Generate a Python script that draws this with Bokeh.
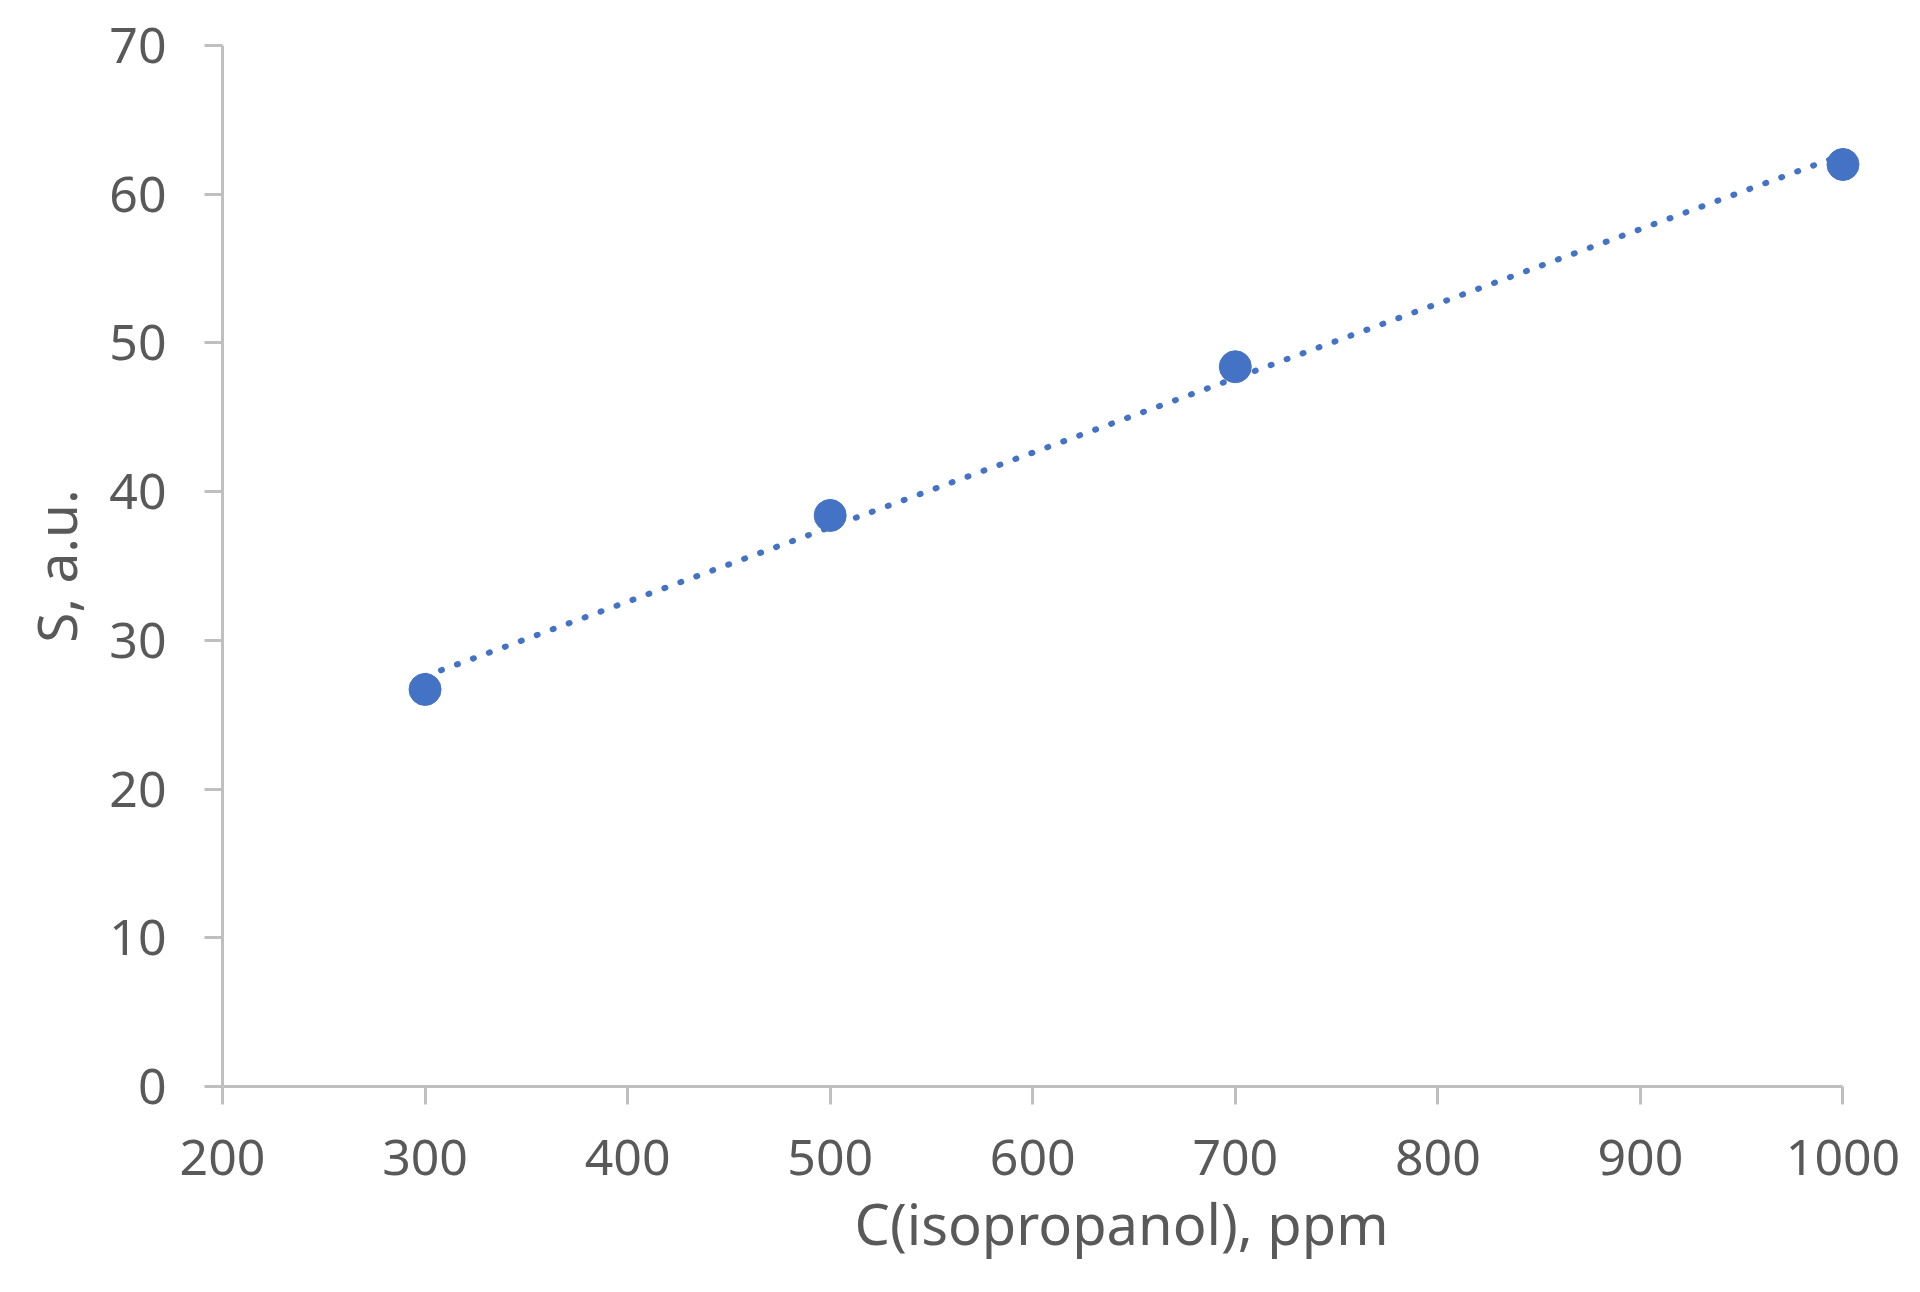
import numpy as np
from bokeh.plotting import figure
from bokeh.models import Range1d, SingleIntervalTicker, Title
from bokeh.embed import file_html
from bokeh.resources import INLINE

# data
conc_ppm = [300, 500, 700, 1000]
signal = [26.7, 38.4, 48.4, 62.0]
x_label = "C(isopropanol), ppm"
y_label = "S, a.u."

# linear trend line (least squares fit of the data)
slope, intercept = np.polyfit(conc_ppm, signal, 1)
trend_x = [conc_ppm[0], conc_ppm[-1]]
trend_y = [slope * v + intercept for v in trend_x]

FONT = "Noto Sans"
TXT = "#595959"
AX = "#BFBFBF"
BLUE = "#4472C4"

p = figure(width=1910, height=1285, output_backend="svg", toolbar_location=None,
           x_range=Range1d(200, 1020), y_range=Range1d(0, 70),
           min_border_left=222, min_border_right=27, min_border_top=45, min_border_bottom=199)
p.outline_line_color = None
p.grid.grid_line_color = None
p.background_fill_color = "white"
p.border_fill_color = "white"

p.line(trend_x, trend_y, line_color=BLUE, line_width=6, line_dash="1 16", line_cap="round")
p.scatter(conc_ppm, signal, size=32, color=BLUE)

xa = p.xaxis[0]
xa.ticker = SingleIntervalTicker(interval=100)
xa.bounds = (200, 1000)
ya = p.yaxis[0]
ya.ticker = SingleIntervalTicker(interval=10)
ya.bounds = (0, 70)
ya.axis_label = y_label

for ax in (xa, ya):
    ax.axis_line_color = AX
    ax.axis_line_width = 3
    ax.major_tick_line_color = AX
    ax.major_tick_line_width = 3
    ax.major_tick_out = 18
    ax.major_tick_in = 0
    ax.minor_tick_line_color = None
    ax.major_label_text_font = FONT
    ax.major_label_text_font_size = "50px"
    ax.major_label_text_color = TXT
    ax.axis_label_text_font = FONT
    ax.axis_label_text_font_size = "55px"
    ax.axis_label_text_font_style = "normal"
    ax.axis_label_text_color = TXT

xa.major_label_standoff = 35
ya.major_label_standoff = 38
ya.axis_label_standoff = 13

p.add_layout(Title(text=x_label, align="left", offset=632, standoff=10,
                   text_font=FONT, text_font_size="56px", text_color=TXT,
                   text_font_style="normal"), "below")

open("out.html", "w").write(file_html(p, INLINE))
